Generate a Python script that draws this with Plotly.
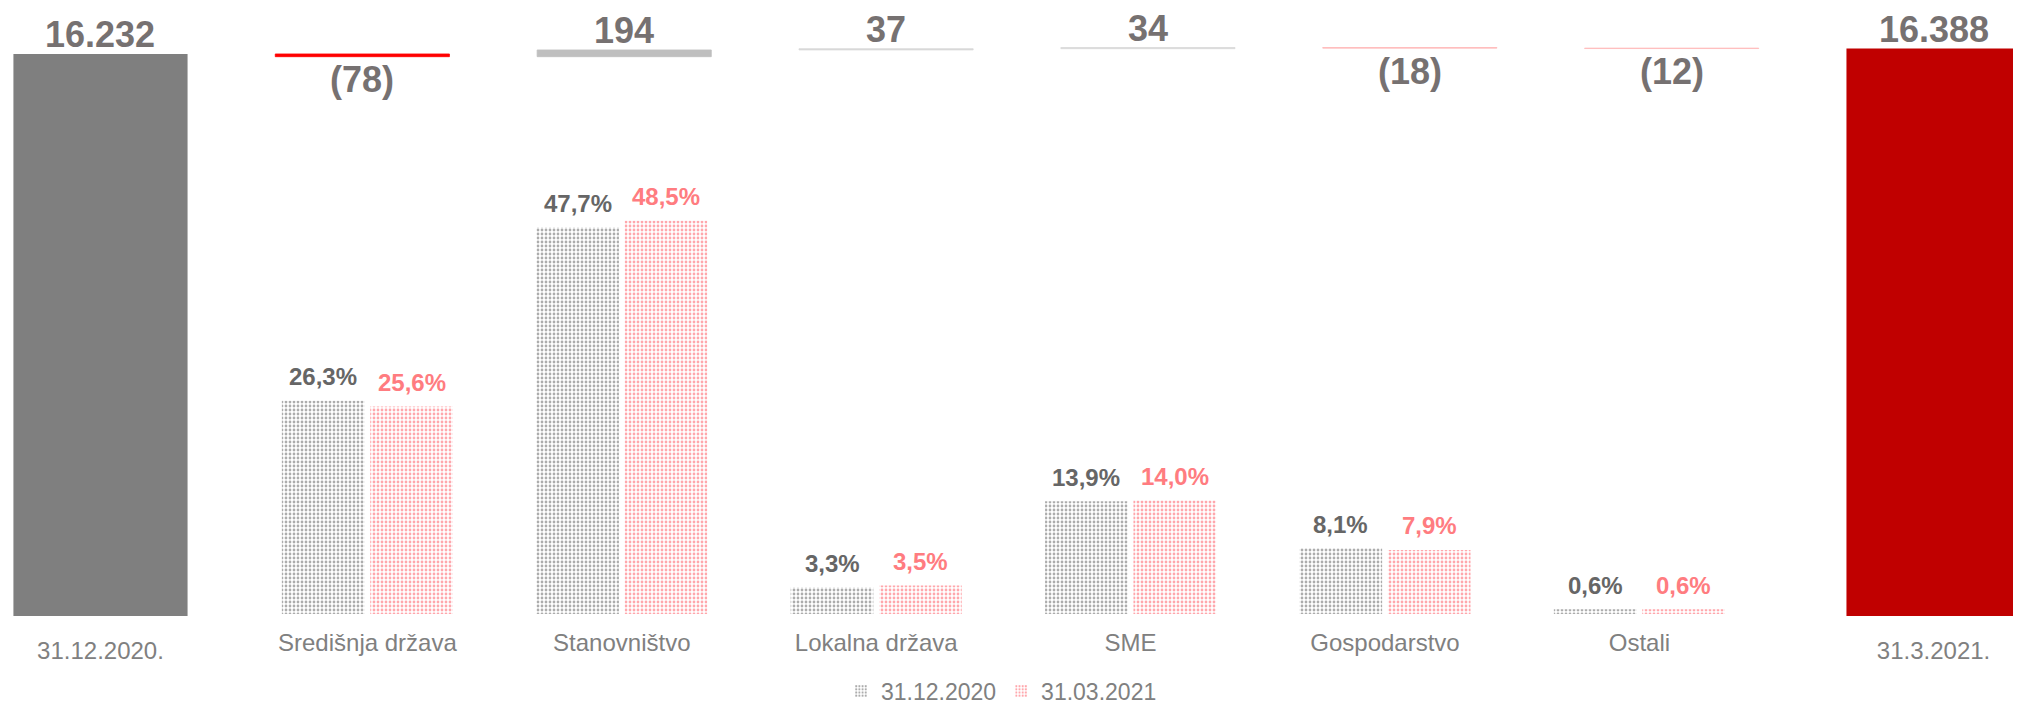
import numpy as np
import plotly.graph_objects as go

# ---------------- data ----------------
period_labels = ["31.12.2020.", "31.3.2021."]
start_value = 16232
end_value = 16388
segments = ["Središnja država", "Stanovništvo", "Lokalna država", "SME", "Gospodarstvo", "Ostali"]
changes = [-78, 194, 37, 34, -18, -12]
series_names = ["31.12.2020", "31.03.2021"]
share_2020 = [26.3, 47.7, 3.3, 13.9, 8.1, 0.6]
share_2021 = [25.6, 48.5, 3.5, 14.0, 7.9, 0.6]

# ---------------- styles ----------------
total_colors = ["#7f7f7f", "#c00000"]
change_colors = ["#ff0000", "#bfbfbf", "#d9d9d9", "#d9d9d9", "#ffb9b9", "#ffb9b9"]
FONT = "Liberation Sans, Arial, sans-serif"
WF_LABEL = "#767171"
GREY_TXT = "#666666"
RED_TXT = "#ff7c80"
TICK_TXT = "#808080"


def fmt_amount(v):
    s = f"{abs(v):,}".replace(",", ".")
    return f"({s})" if v < 0 else s


def fmt_pct(v):
    return f"{v:.1f}".replace(".", ",") + "%"


fig = go.Figure()

# ---------------- waterfall part (x / y) ----------------
n_steps = len(changes)
x_total = [0, n_steps + 1]
x_steps = list(range(1, n_steps + 1))
bases = list(start_value + np.concatenate([[0], np.cumsum(changes)[:-1]]))

fig.add_trace(go.Bar(
    x=x_total, y=[start_value, end_value], base=[0, 0],
    width=0.665, marker=dict(color=total_colors, line=dict(width=0)),
    showlegend=False, hoverinfo="skip", xaxis="x", yaxis="y",
))
fig.add_trace(go.Bar(
    x=x_steps, y=changes, base=bases,
    width=0.665, marker=dict(color=change_colors, line=dict(color=change_colors, width=0.8)),
    showlegend=False, hoverinfo="skip", xaxis="x", yaxis="y",
))

annotations = []
for xv, v in zip(x_total, [start_value, end_value]):
    annotations.append(dict(x=xv, y=v, xref="x", yref="y", text=fmt_amount(v),
                            showarrow=False, yanchor="middle", yshift=19, borderpad=0,
                            font=dict(family=FONT, size=36, color=WF_LABEL, weight="bold")))
for xv, b, c in zip(x_steps, bases, changes):
    end = b + c
    annotations.append(dict(x=xv, y=end, xref="x", yref="y", text=fmt_amount(c),
                            showarrow=False, yanchor="middle", borderpad=0,
                            yshift=19 if c > 0 else -23,
                            font=dict(family=FONT, size=36, color=WF_LABEL, weight="bold")))

# ---------------- share bars (x2 / y2) ----------------
xs = list(range(len(segments)))
bw = 0.325
gap = 0.0224
fig.add_trace(go.Bar(
    x=xs, y=share_2020, name=series_names[0], width=bw, offset=-(bw + gap / 2),
    marker=dict(color="white", line=dict(width=0),
                pattern=dict(shape=".", fgcolor="#5a5a5a", bgcolor="white",
                             size=4, solidity=0.38, fillmode="overlay")),
    hoverinfo="skip", xaxis="x2", yaxis="y2",
))
fig.add_trace(go.Bar(
    x=xs, y=share_2021, name=series_names[1], width=bw, offset=gap / 2,
    marker=dict(color="white", line=dict(width=0),
                pattern=dict(shape=".", fgcolor="#ff4f5a", bgcolor="white",
                             size=4, solidity=0.38, fillmode="overlay")),
    hoverinfo="skip", xaxis="x2", yaxis="y2",
))
for xv, v in zip(xs, share_2020):
    annotations.append(dict(x=xv - gap / 2 - bw / 2, y=v, xref="x2", yref="y2", text=fmt_pct(v),
                            showarrow=False, yanchor="middle", yshift=24,
                            font=dict(family=FONT, size=24, color=GREY_TXT, weight="bold")))
for xv, v in zip(xs, share_2021):
    annotations.append(dict(x=xv + gap / 2 + bw / 2, y=v, xref="x2", yref="y2", text=fmt_pct(v),
                            showarrow=False, yanchor="middle", yshift=24,
                            font=dict(family=FONT, size=24, color=RED_TXT, weight="bold")))

axis_common = dict(showgrid=False, zeroline=False, showline=False, ticks="", automargin=False,
                   tickfont=dict(family=FONT, size=24, color=TICK_TXT))

fig.update_layout(
    width=2005, height=696,
    margin=dict(l=0, r=0, t=0, b=88, pad=0, autoexpand=False),
    paper_bgcolor="white", plot_bgcolor="rgba(0,0,0,0)",
    barmode="overlay",
    font=dict(family=FONT, color=TICK_TXT),
    xaxis=dict(domain=[0, 1], range=[-0.3532, 7.3035], anchor="y",
               tickmode="array", tickvals=x_total, ticktext=period_labels,
               ticklabelstandoff=18, **axis_common),
    yaxis=dict(domain=[0, 1], range=[0, 17560], visible=False, fixedrange=True, automargin=False),
    xaxis2=dict(domain=[0, 1], range=[-1.4127, 6.4686], anchor="y2",
                tickmode="array", tickvals=xs, ticktext=segments,
                ticklabelstandoff=12, **axis_common),
    yaxis2=dict(domain=[2 / 608, 1], range=[0, 74.72], visible=False, anchor="x2",
                fixedrange=True, automargin=False),
    legend=dict(orientation="h", x=0.4955, xanchor="center",
                yref="container", y=(696 - 683) / 696, yanchor="middle",
                font=dict(family=FONT, size=23, color=TICK_TXT),
                bgcolor="rgba(0,0,0,0)", itemwidth=30, traceorder="normal"),
    annotations=annotations,
)

fig.write_html("out.html")
